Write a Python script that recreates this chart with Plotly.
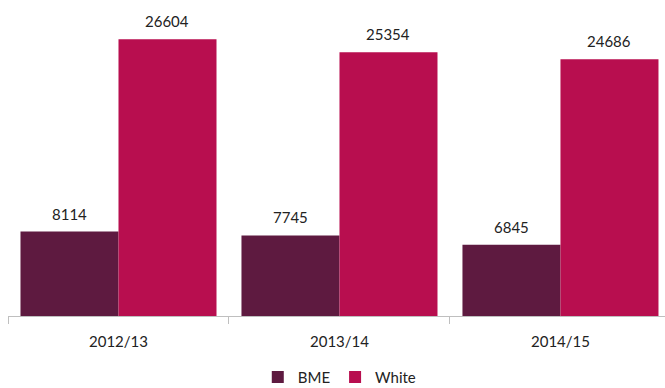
import plotly.graph_objects as go

years = ["2012/13", "2013/14", "2014/15"]
bme = [8114, 7745, 6845]
white = [26604, 25354, 24686]

BME_COLOR = "#5e1a40"
WHITE_COLOR = "#b80e4f"
FONT = "Lato"

fig = go.Figure()
fig.add_bar(name="BME", x=years, y=bme, marker_color=BME_COLOR,
            marker_line_width=0)
fig.add_bar(name="White", x=years, y=white, marker_color=WHITE_COLOR,
            marker_line_width=0)

# value labels sitting above each bar
for i, yr in enumerate(years):
    for val, shift in ((bme[i], -49), (white[i], 49)):
        fig.add_annotation(x=yr, y=val, text=str(val), showarrow=False,
                           xshift=shift, yshift=18,
                           font=dict(family=FONT, size=15, color="#222222"))

fig.update_layout(
    width=665, height=388,
    margin=dict(l=8, r=0, t=4, b=72, autoexpand=False),
    paper_bgcolor="white", plot_bgcolor="white",
    barmode="group", bargap=0.113, bargroupgap=0,
    font=dict(family=FONT, size=15, color="#222222"),
    showlegend=True,
    legend=dict(orientation="h", x=0.505, xanchor="center",
                yref="container", y=0.028, yanchor="middle",
                font=dict(size=15), itemwidth=30, tracegroupgap=0),
    xaxis=dict(range=[-0.5, 2.473], showline=True, linecolor="#bfbfbf",
               linewidth=1, ticks="outside", tickson="boundaries",
               ticklen=7, tickcolor="#bfbfbf", showgrid=False,
               ticklabelstandoff=12, automargin=False),
    yaxis=dict(range=[0, 30000], visible=False, showgrid=False,
               automargin=False),
)

fig.write_html("out.html")
